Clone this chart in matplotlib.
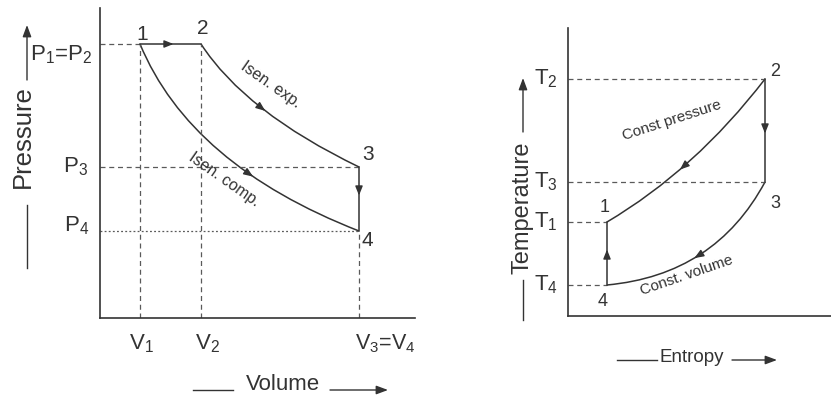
import numpy as np
import matplotlib
matplotlib.use("Agg")
import matplotlib.pyplot as plt
from matplotlib.path import Path
from matplotlib.patches import PathPatch

plt.rcParams["font.family"] = ["Liberation Sans", "DejaVu Sans"]
plt.rcParams["mathtext.default"] = "regular"

# P-V cycle states 1..4 (arbitrary units)
pv_volume = [4.0, 10.1, 25.9, 25.9]
pv_pressure = [27.4, 27.4, 15.1, 8.7]

# T-s cycle states 1..4 (arbitrary units)
ts_entropy = [3.9, 19.7, 19.7, 3.9]
ts_temperature = [9.4, 23.7, 13.4, 3.1]

state_names = ["1", "2", "3", "4"]
pv_xtick_labels = [r"V$_1$", r"V$_2$", r"V$_3$=V$_4$"]
pv_ytick_labels = [r"P$_1$=P$_2$", r"P$_3$", r"P$_4$"]
ts_ytick_labels = [r"T$_1$", r"T$_2$", r"T$_3$", r"T$_4$"]

# bulge (control point) of each curved process
exp_ctrl = (14.5, 20.6)
comp_ctrl = (9.0, 15.3)
constp_ctrl = (12.7, 14.6)
constv_ctrl = (14.7, 4.1)

INK = "#333333"
DASH = "#5a5a5a"
W, H = 831, 400


def fx(px):
    return px / W


def fy(py):
    return 1 - py / H


def bezier(p0, c, p2, t):
    p0, c, p2 = map(np.asarray, (p0, c, p2))
    pt = (1 - t) ** 2 * p0 + 2 * t * (1 - t) * c + t ** 2 * p2
    tan = 2 * (1 - t) * (c - p0) + 2 * t * (p2 - c)
    return pt, tan / np.hypot(*tan)


def curve(ax, p0, c, p2):
    path = Path([p0, c, p2], [Path.MOVETO, Path.CURVE3, Path.CURVE3])
    ax.add_patch(PathPatch(path, fc="none", ec=INK, lw=1.1))


def mid_arrow(ax, p, d):
    p, d = np.asarray(p, float), np.asarray(d, float)
    ax.annotate("", xy=p + d * 0.35, xytext=p - d * 0.35,
                arrowprops=dict(arrowstyle="-|>,head_length=0.55,head_width=0.22",
                                color=INK, lw=1.0, shrinkA=0, shrinkB=0))


def dashed(ax, xs, ys, dotted=False):
    ls = (0, (1.5, 1.8)) if dotted else (0, (4, 3))
    ax.plot(xs, ys, color=DASH, lw=0.9, ls=ls)


def clean_axes(ax):
    for side in ("top", "right"):
        ax.spines[side].set_visible(False)
    for side in ("left", "bottom"):
        ax.spines[side].set_color(INK)
        ax.spines[side].set_linewidth(1.2)
    ax.set_xticks([])
    ax.set_yticks([])
    ax.patch.set_alpha(0)


fig = plt.figure(figsize=(W / 100, H / 100), dpi=100)

# ---------------- P-V diagram ----------------
ax1 = fig.add_axes([fx(100), fy(318), 315 / W, 310 / H])
ax1.set_xlim(0, 31.5)
ax1.set_ylim(0, 31)
clean_axes(ax1)

v1, v2, v3, v4 = pv_volume
p1, p2, p3, p4 = pv_pressure

dashed(ax1, [0, v1], [p1, p1])
dashed(ax1, [0, v3], [p3, p3])
dashed(ax1, [0, v4], [p4, p4], dotted=True)
dashed(ax1, [v1, v1], [0, p1])
dashed(ax1, [v2, v2], [0, p2])
dashed(ax1, [v4, v4], [0, p4])

ax1.plot([v1, v2], [p1, p2], color=INK, lw=1.1)
ax1.plot([v3, v4], [p3, p4], color=INK, lw=1.1)
curve(ax1, (v2, p2), exp_ctrl, (v3, p3))
curve(ax1, (v1, p1), comp_ctrl, (v4, p4))

mid_arrow(ax1, (7.0, p1), (1, 0))
mid_arrow(ax1, (v3, 12.6), (0, -1))
mid_arrow(ax1, *bezier((v2, p2), exp_ctrl, (v3, p3), 0.5))
mid_arrow(ax1, *bezier((v1, p1), comp_ctrl, (v4, p4), 0.63))

pv_offsets = [(0.2, 1.0), (0.2, 1.6), (0.9, 1.2), (0.8, -0.9)]
for name, v, p, (dx, dy) in zip(state_names, pv_volume, pv_pressure, pv_offsets):
    ax1.text(v + dx, p + dy, name, fontsize=15, color=INK, ha="center", va="center")

ax1.text(-0.8, p1 - 1.1, pv_ytick_labels[0], fontsize=16, color=INK,
         ha="right", va="center", clip_on=False)
ax1.text(-1.2, p3, pv_ytick_labels[1], fontsize=16, color=INK,
         ha="right", va="center", clip_on=False)
ax1.text(-1.1, p4 + 0.5, pv_ytick_labels[2], fontsize=16, color=INK,
         ha="right", va="center", clip_on=False)
ax1.text(v1 + 0.1, -2.6, pv_xtick_labels[0], fontsize=16, color=INK,
         ha="center", va="center", clip_on=False)
ax1.text(v2 + 0.6, -2.6, pv_xtick_labels[1], fontsize=16, color=INK,
         ha="center", va="center", clip_on=False)
ax1.text(v3 + 2.6, -2.6, pv_xtick_labels[2], fontsize=15.5, color=INK,
         ha="center", va="center", clip_on=False)

ax1.text(17.1, 23.3, "Isen. exp.", fontsize=11.5, color=INK, rotation=-35,
         ha="center", va="center", rotation_mode="anchor")
ax1.text(12.4, 13.8, "Isen. comp.", fontsize=11.5, color=INK, rotation=-35,
         ha="center", va="center", rotation_mode="anchor")

# ---------------- T-s diagram ----------------
ax2 = fig.add_axes([fx(568), fy(316), 263 / W, 288 / H])
ax2.set_xlim(0, 26.3)
ax2.set_ylim(0, 28.8)
clean_axes(ax2)

s1, s2, s3, s4 = ts_entropy
t1, t2, t3, t4 = ts_temperature

dashed(ax2, [0, s2], [t2, t2])
dashed(ax2, [0, s3], [t3, t3])
dashed(ax2, [0, s1], [t1, t1])
dashed(ax2, [0, s4], [t4, t4])

ax2.plot([s2, s3], [t2, t3], color=INK, lw=1.1)
ax2.plot([s4, s1], [t4, t1], color=INK, lw=1.1)
curve(ax2, (s1, t1), constp_ctrl, (s2, t2))
curve(ax2, (s3, t3), constv_ctrl, (s4, t4))

mid_arrow(ax2, (s2, 18.6), (0, -1))
mid_arrow(ax2, (s1, 6.3), (0, 1))
pt, d = bezier((s1, t1), constp_ctrl, (s2, t2), 0.45)
mid_arrow(ax2, pt, -d)
mid_arrow(ax2, *bezier((s3, t3), constv_ctrl, (s4, t4), 0.52))

ts_offsets = [(-0.2, 1.4), (1.0, 0.7), (1.0, -2.1), (-0.4, -1.7)]
for name, s, t, (dx, dy) in zip(state_names, ts_entropy, ts_temperature, ts_offsets):
    ax2.text(s + dx, t + dy, name, fontsize=13, color=INK, ha="center", va="center")

for lab, t in zip(ts_ytick_labels, ts_temperature):
    ax2.text(-1.0, t, lab, fontsize=16, color=INK, ha="right", va="center",
             clip_on=False)

ax2.text(10.4, 19.6, "Const pressure", fontsize=11, color=INK, rotation=18,
         ha="center", va="center", rotation_mode="anchor")
ax2.text(11.9, 4.1, "Const. volume", fontsize=11, color=INK, rotation=19,
         ha="center", va="center", rotation_mode="anchor")

# ---------------- axis titles with arrows ----------------
def fig_line(x0, y0, x1, y1, arrow=False):
    if arrow:
        fig.add_artist(matplotlib.patches.FancyArrowPatch(
            (fx(x0), fy(y0)), (fx(x1), fy(y1)), transform=fig.transFigure,
            arrowstyle="-|>,head_length=7,head_width=2.6", color=INK, lw=1.0,
            shrinkA=0, shrinkB=0))
    else:
        fig.add_artist(matplotlib.lines.Line2D(
            [fx(x0), fx(x1)], [fy(y0), fy(y1)], transform=fig.transFigure,
            color=INK, lw=1.0))


fig.text(fx(23), fy(137), "Pressure", fontsize=18.5, color=INK, rotation=90,
         ha="center", va="center")
fig_line(27, 80, 27, 25, arrow=True)
fig_line(27, 205, 27, 268)

fig.text(fx(283), fy(384), "Volume", fontsize=16, color=INK,
         ha="center", va="center")
fig_line(193, 390, 233, 390)
fig_line(330, 390, 388, 390, arrow=True)

fig.text(fx(522), fy(208), "Temperature", fontsize=17, color=INK, rotation=90,
         ha="center", va="center")
fig_line(523, 132, 523, 78, arrow=True)
fig_line(523, 280, 523, 320)

fig.text(fx(692), fy(357), "Entropy", fontsize=13.5, color=INK,
         ha="center", va="center")
fig_line(617, 360, 657, 360)
fig_line(732, 360, 777, 360, arrow=True)

fig.savefig("out.png", dpi=100)
